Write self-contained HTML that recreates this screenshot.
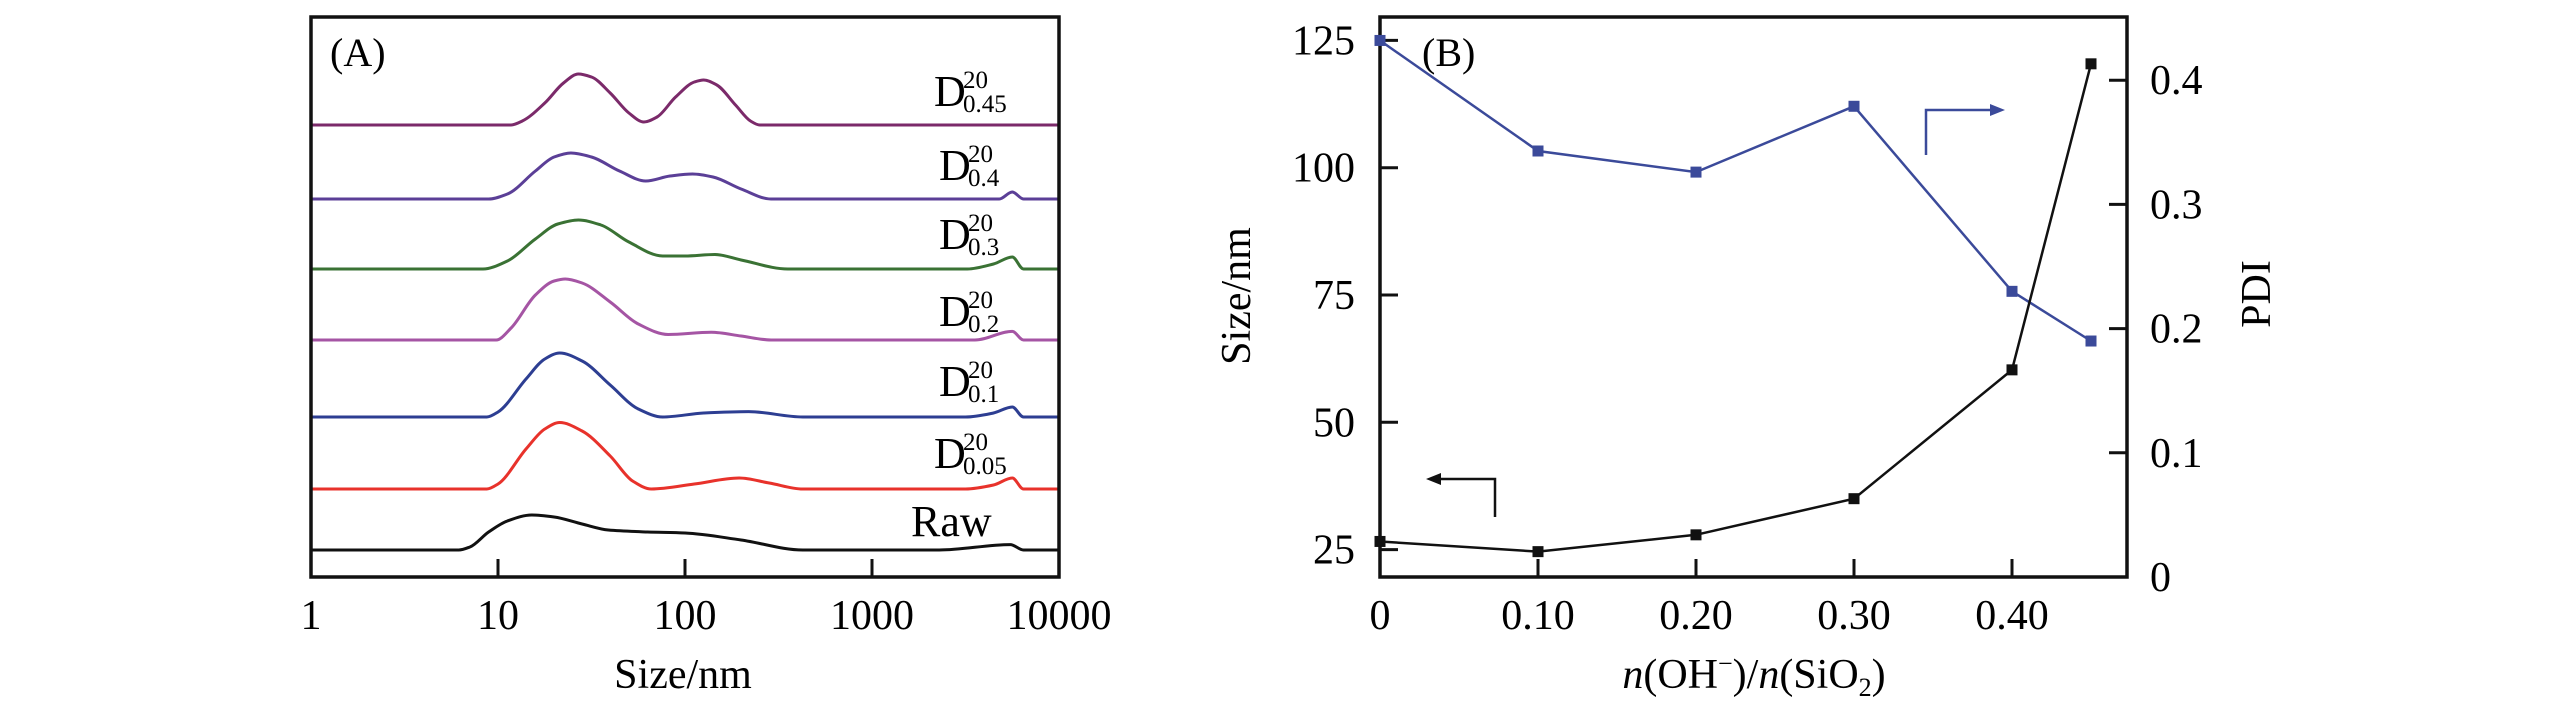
<!DOCTYPE html>
<html><head><meta charset="utf-8"><style>
html,body{margin:0;padding:0;background:#fff;}
svg{display:block;font-family:"Liberation Serif",serif;}
</style></head><body>
<svg id="chart" width="2567" height="709" viewBox="0 0 2567 709" xmlns="http://www.w3.org/2000/svg">
<rect width="2567" height="709" fill="#fff"/>
<g id="panelA"></g>
<g id="panelB"></g>
</svg>
<script>
// ---------- Panel A data (log10 size, intensity) ----------
const seriesNames = ["Raw","0.05","0.1","0.2","0.3","0.4","0.45"];
const curveRaw = [[0,0],[0.79,0],[0.85,3],[0.95,18],[1.05,29],[1.18,35],[1.3,33],[1.45,26],[1.59,20],[1.8,18],[2.0,17],[2.3,10],[2.63,0],[3.36,0],[3.74,5.4],[3.81,0],[4,0]];
const curve005 = [[0,0],[0.94,0],[1.0,5],[1.15,40],[1.25,60],[1.33,66.5],[1.45,58],[1.6,33],[1.72,8],[1.82,0],[2.05,5],[2.29,11],[2.45,6],[2.63,0],[3.5,0],[3.65,4],[3.75,11],[3.81,0],[4,0]];
const curve01 = [[0,0],[0.94,0],[1.0,5],[1.15,38],[1.25,58],[1.33,64],[1.45,56],[1.6,32],[1.75,8],[1.88,0],[2.1,4],[2.34,5.4],[2.63,0],[3.5,0],[3.65,4],[3.75,10],[3.81,0],[4,0]];
const curve02 = [[0,0],[0.99,0],[1.07,12],[1.2,45],[1.3,59],[1.36,61],[1.45,57],[1.6,38],[1.75,16],[1.91,5.5],[2.14,7.7],[2.3,4],[2.46,0],[3.55,0],[3.75,8.6],[3.81,0],[4,0]];
const curve03 = [[0,0],[0.92,0],[1.05,8],[1.2,30],[1.32,45],[1.43,49],[1.55,44],[1.7,27],[1.88,13],[2.0,13],[2.16,14.5],[2.3,9],[2.55,0],[3.51,0],[3.65,5],[3.75,12],[3.81,0],[4,0]];
const curve04 = [[0,0],[0.95,0],[1.05,5],[1.2,28],[1.3,42],[1.39,46],[1.5,42],[1.65,28],[1.79,18],[1.92,23],[2.04,25],[2.15,22],[2.3,10],[2.46,0],[3.68,0],[3.75,7],[3.81,0],[4,0]];
const curve045 = [[0,0],[1.07,0],[1.13,4],[1.25,22],[1.35,42],[1.43,51],[1.5,48],[1.6,32],[1.7,12],[1.78,3],[1.85,8],[1.95,28],[2.05,43],[2.1,45],[2.17,40],[2.27,20],[2.35,4],[2.4,0],[4,0]];
const xTickLabelsA = ["1","10","100","1000","10000"];
// ---------- Panel B data ----------
const ratios = [0,0.10,0.20,0.30,0.40,0.45];
const sizeValues = [26.6,24.6,27.9,35.0,60.3,120.4];
const pdiValues = [0.432,0.343,0.326,0.379,0.230,0.190];
const xTickLabelsB = ["0","0.10","0.20","0.30","0.40"];
const leftTicks = [25,50,75,100,125];
const rightTicks = [0,0.1,0.2,0.3,0.4];

const NS="http://www.w3.org/2000/svg";
function mk(parent,tag,attrs,text){const e=document.createElementNS(NS,tag);for(const k in attrs)e.setAttribute(k,attrs[k]);if(text!==undefined)e.textContent=text;parent.appendChild(e);return e;}
// monotone cubic interpolation (no overshoot)
function monotone(pts){
  const n=pts.length,dx=[],s=[],m=[];
  for(let i=0;i<n-1;i++){dx[i]=pts[i+1][0]-pts[i][0];s[i]=(pts[i+1][1]-pts[i][1])/dx[i];}
  m[0]=s[0];m[n-1]=s[n-2];
  for(let i=1;i<n-1;i++){
    if(s[i-1]*s[i]<=0)m[i]=0;
    else{const w1=2*dx[i]+dx[i-1],w2=dx[i]+2*dx[i-1];m[i]=(w1+w2)/(w1/s[i-1]+w2/s[i]);}
  }
  let d='M'+pts[0][0].toFixed(1)+','+pts[0][1].toFixed(1);
  for(let i=0;i<n-1;i++){
    const h=dx[i]/3;
    d+=' C'+(pts[i][0]+h).toFixed(1)+','+(pts[i][1]+m[i]*h).toFixed(1)+' '+(pts[i+1][0]-h).toFixed(1)+','+(pts[i+1][1]-m[i+1]*h).toFixed(1)+' '+pts[i+1][0].toFixed(1)+','+pts[i+1][1].toFixed(1);
  }
  return d;
}

// ---------- Panel A ----------
const A=document.getElementById('panelA');
const aL=311,aR=1059,aT=17,aB=577;
const xA=v=>aL+(v/4)*(aR-aL);
const curves=[curveRaw,curve005,curve01,curve02,curve03,curve04,curve045];
const baselines=[550,489,417,340,269,199,125];
const colors=["#111111","#e8322b","#2d3e92","#a555a4","#3a7234","#5b3f97","#7b2a6a"];
curves.forEach((c,i)=>{
  const pts=c.map(p=>[xA(p[0]),baselines[i]-p[1]]);
  const path=mk(A,'path',{d:monotone(pts),fill:'none',stroke:colors[i],'stroke-width':3,'stroke-linejoin':'round'});
  
  
});
mk(A,'rect',{x:aL,y:aT,width:aR-aL,height:aB-aT,fill:'none',stroke:'#111','stroke-width':3.5,});
xTickLabelsA.forEach((t,i)=>{
  if(i>0&&i<4){const tk=mk(A,'line',{x1:xA(i),x2:xA(i),y1:aB,y2:aB-18,stroke:'#111','stroke-width':3});
    }
  const tl=mk(A,'text',{x:xA(i),y:629,'font-size':42,'text-anchor':'middle'},t);
  
});
mk(A,'text',{x:683,y:688,'font-size':42,'text-anchor':'middle',},'Size/nm');
mk(A,'text',{x:330,y:66,'font-size':40,},'(A)');
const labY=[522,454,382,312,235,166,92];
const subs=[null,"0.05","0.1","0.2","0.3","0.4","0.45"];
subs.forEach((s,i)=>{
  if(!s){mk(A,'text',{x:911,y:labY[i]+14,'font-size':44,},'Raw');return;}
  const x0=s.length>3?934:939;
  const g=mk(A,'text',{x:x0,y:labY[i]+14,'font-size':44});
  
  mk(g,'tspan',{},'D');
  mk(g,'tspan',{x:x0+29,y:labY[i]-4,'font-size':25},'20');
  mk(g,'tspan',{x:x0+29,y:labY[i]+20,'font-size':25},s);
});

// ---------- Panel B ----------
const B=document.getElementById('panelB');
const bL=1380,bR=2127,bT=17,bB=577;
const xB=v=>bL+v*1580;
const yL=v=>549.6-(v-25)*5.092;
const yR=v=>bB-v*1242;
mk(B,'rect',{x:bL,y:bT,width:bR-bL,height:bB-bT,fill:'none',stroke:'#111','stroke-width':3.5,});
xTickLabelsB.forEach((t,i)=>{
  const v=i*0.1;
  if(i>0){const tk=mk(B,'line',{x1:xB(v),x2:xB(v),y1:bB,y2:bB-18,stroke:'#111','stroke-width':3});
    }
  const tl=mk(B,'text',{x:xB(v),y:629,'font-size':42,'text-anchor':'middle'},t);
  
});
leftTicks.forEach(v=>{
  const tk=mk(B,'line',{x1:bL,x2:bL+18,y1:yL(v),y2:yL(v),stroke:'#111','stroke-width':3});
  
  const tl=mk(B,'text',{x:1355,y:yL(v)+14,'font-size':42,'text-anchor':'end'},String(v));
  
});
rightTicks.forEach(v=>{
  const tk=mk(B,'line',{x1:bR,x2:bR-18,y1:yR(v),y2:yR(v),stroke:'#111','stroke-width':3});
  
  const tl=mk(B,'text',{x:2150,y:yR(v)+14,'font-size':42},String(v));
  
});
function series(vals,yf,col,name){
  const d=vals.map((v,i)=>(i?'L':'M')+xB(ratios[i]).toFixed(1)+','+yf(v).toFixed(1)).join(' ');
  const p=mk(B,'path',{d:d,fill:'none',stroke:col,'stroke-width':2.5});
  
  vals.forEach((v,i)=>{
    const m=mk(B,'rect',{x:xB(ratios[i])-5.5,y:yf(v)-5.5,width:11,height:11,fill:col});
    
  });
}
series(pdiValues,yR,'#3b4a9a','pdi');
series(sizeValues,yL,'#111111','size');
// arrows
mk(B,'path',{d:'M1926,155 L1926,110 L1995,110',fill:'none',stroke:'#3b4a9a','stroke-width':2.5,});
mk(B,'path',{d:'M2005,110 L1990,104 L1990,116 Z',fill:'#3b4a9a',});
mk(B,'path',{d:'M1495,517 L1495,479 L1436,479',fill:'none',stroke:'#111','stroke-width':2.5,});
mk(B,'path',{d:'M1426,479 L1441,473 L1441,485 Z',fill:'#111',});
mk(B,'text',{x:1422,y:66,'font-size':40,},'(B)');
mk(B,'text',{x:0,y:0,'font-size':42,'text-anchor':'middle',transform:'translate(1250,296) rotate(-90)',},'Size/nm');
mk(B,'text',{x:0,y:0,'font-size':42,'text-anchor':'middle',transform:'translate(2270,294) rotate(-90)',},'PDI');
const xt=mk(B,'text',{x:1754,y:688,'font-size':42,'text-anchor':'middle',});
mk(xt,'tspan',{'font-style':'italic'},'n');
mk(xt,'tspan',{},'(OH');
mk(xt,'tspan',{'font-size':26,dy:-16},'−');
mk(xt,'tspan',{dy:16},')/');
mk(xt,'tspan',{'font-style':'italic'},'n');
mk(xt,'tspan',{},'(SiO');
mk(xt,'tspan',{'font-size':26,dy:8},'2');
mk(xt,'tspan',{dy:-8},')');
</script>
</body></html>
